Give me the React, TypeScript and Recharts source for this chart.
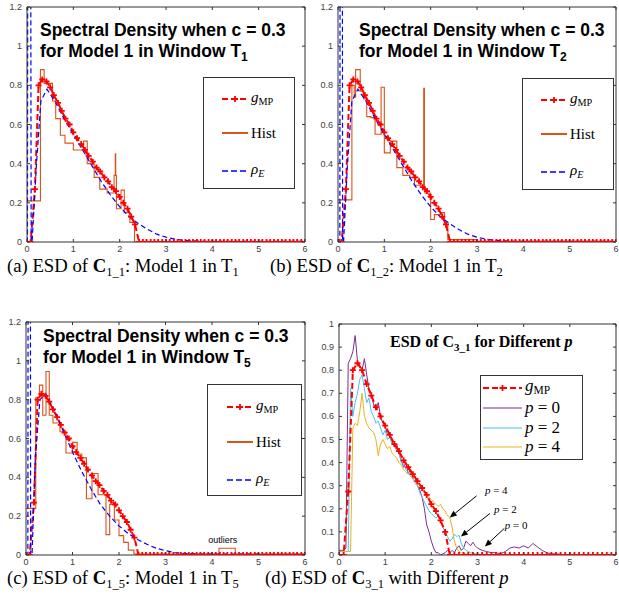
import React from 'react';
import { ComposedChart, Line, XAxis, YAxis, ReferenceLine, ReferenceDot, Legend } from 'recharts';

// ---- shared g_MP (panels a–c) ----
const MP_X = [0, 0.08, 0.17, 0.25, 0.33, 0.42, 0.5, 0.58, 0.67, 0.75, 0.83, 0.92, 1, 1.08, 1.17, 1.25, 1.33, 1.42, 1.5, 1.58, 1.67, 1.75, 1.83, 1.92, 2, 2.08, 2.17, 2.25, 2.33, 2.42, 2.5, 2.58, 2.67, 2.75, 2.83, 2.92, 3, 3.08, 3.17, 3.25, 3.33, 3.42, 3.5, 3.58, 3.67, 3.75, 3.83, 3.92, 4, 4.08, 4.17, 4.25, 4.33, 4.42, 4.5, 4.58, 4.67, 4.75, 4.83, 4.92, 5, 5.08, 5.17, 5.25, 5.33, 5.42, 5.5, 5.58, 5.67, 5.75, 5.83, 5.92, 6];
const MP_Y = [0, 0, 0.27, 0.8, 0.83, 0.82, 0.79, 0.75, 0.71, 0.67, 0.63, 0.6, 0.56, 0.53, 0.5, 0.47, 0.44, 0.41, 0.38, 0.36, 0.33, 0.31, 0.28, 0.26, 0.23, 0.2, 0.17, 0.13, 0.09, 0, 0, 0, 0, 0, 0, 0, 0, 0, 0, 0, 0, 0, 0, 0, 0, 0, 0, 0, 0, 0, 0, 0, 0, 0, 0, 0, 0, 0, 0, 0, 0, 0, 0, 0, 0, 0, 0, 0, 0, 0, 0, 0, 0];

// ---- panel (a) ----
const A_HIST_X = [0, 0.29, 0.37, 0.47, 0.55, 0.62, 0.72, 0.82, 1, 1.1, 1.22, 1.3, 1.45, 1.57, 1.73, 1.88, 1.905, 1.915, 1.93, 2.03, 2.1, 2.22, 2.32, 6];
const A_HIST_Y = [0.21, 0.88, 0.81, 0.81, 0.72, 0.63, 0.545, 0.505, 0.47, 0.47, 0.515, 0.4, 0.33, 0.27, 0.25, 0.34, 0.45, 0.34, 0.17, 0.265, 0.15, 0.1, 0, 0];
const A_RHO_X = [0, 0.01, 0.04, 0.09, 0.11, 0.2, 0.3, 0.43, 0.6, 0.8, 1, 1.2, 1.4, 1.6, 1.8, 2, 2.2, 2.4, 2.6, 2.8, 3, 3.2, 3.4, 3.7, 4, 5, 6];
const A_RHO_Y = [0, 0, 8, 0, 0, 0.38, 0.72, 0.78, 0.72, 0.63, 0.55, 0.47, 0.39, 0.31, 0.24, 0.18, 0.13, 0.095, 0.065, 0.04, 0.025, 0.014, 0.008, 0.004, 0.003, 0.003, 0.003];

// ---- panel (b) ----
const B_HIST_X = [0, 0.3, 0.35, 0.38, 0.48, 0.55, 0.62, 0.71, 0.8, 0.93, 1, 1.13, 1.27, 1.4, 1.55, 1.65, 1.85, 1.865, 1.875, 2, 2.08, 2.22, 2.3, 2.37, 3, 6];
const B_HIST_Y = [0.215, 0.8, 0.74, 0.88, 0.77, 0.73, 0.64, 0.635, 0.55, 0.79, 0.455, 0.515, 0.38, 0.34, 0.33, 0.29, 0.785, 0.28, 0.25, 0.115, 0.14, 0.15, 0.09, 0.012, 0.003, 0.003];
const B_RHO_X = [0, 0.04, 0.065, 0.1, 0.12, 0.2, 0.3, 0.43, 0.6, 0.8, 1, 1.2, 1.4, 1.6, 1.8, 2, 2.2, 2.4, 2.6, 2.8, 3, 3.2, 3.4, 3.7, 4, 5, 6];
const B_RHO_Y = [0, 0, 8, 0, 0, 0.38, 0.72, 0.78, 0.72, 0.63, 0.55, 0.47, 0.39, 0.31, 0.24, 0.18, 0.13, 0.095, 0.065, 0.04, 0.025, 0.014, 0.008, 0.004, 0.003, 0.003, 0.003];

// ---- panel (c) ----
const C_HIST_X = [0, 0.21, 0.29, 0.36, 0.43, 0.5, 0.58, 0.73, 0.86, 1, 1.1, 1.2, 1.3, 1.42, 1.55, 1.72, 1.8, 1.9, 2, 2.1, 2.2, 2.32, 4.15, 4.5, 6];
const C_HIST_Y = [0.24, 0.81, 0.875, 0.72, 0.945, 0.72, 0.68, 0.635, 0.525, 0.58, 0.52, 0.5, 0.29, 0.42, 0.31, 0.105, 0.26, 0.18, 0.1, 0.065, 0.025, 0.005, 0.035, 0.005, 0.005];
const C_RHO_X = [0, 0.04, 0.07, 0.1, 0.13, 0.2, 0.3, 0.42, 0.6, 0.8, 1, 1.2, 1.4, 1.6, 1.8, 2, 2.2, 2.4, 2.6, 2.8, 3, 3.2, 3.4, 3.7, 4, 5, 6];
const C_RHO_Y = [0, 0, 8, 0, 0, 0.5, 0.8, 0.83, 0.75, 0.64, 0.53, 0.43, 0.34, 0.26, 0.2, 0.15, 0.11, 0.08, 0.055, 0.035, 0.022, 0.013, 0.008, 0.005, 0.004, 0.004, 0.003];

// ---- panel (d) ----
const D_MP_X = [0, 0.1, 0.2, 0.3, 0.4, 0.5, 0.6, 0.7, 0.8, 0.9, 1, 1.1, 1.2, 1.3, 1.4, 1.5, 1.6, 1.7, 1.8, 1.9, 2, 2.1, 2.2, 2.3, 2.4, 2.5, 2.6, 2.7, 2.8, 2.9, 3, 3.1, 3.2, 3.3, 3.4, 3.5, 3.6, 3.7, 3.8, 3.9, 4, 4.1, 4.2, 4.3, 4.4, 4.5, 4.6, 4.7, 4.8, 4.9, 5, 5.1, 5.2, 5.3, 5.4, 5.5, 5.6, 5.7, 5.8, 5.9, 6];
const D_MP_Y = [0, 0, 0.275, 0.8, 0.83, 0.8, 0.74, 0.69, 0.64, 0.6, 0.56, 0.52, 0.48, 0.45, 0.41, 0.38, 0.35, 0.32, 0.29, 0.26, 0.22, 0.19, 0.15, 0.1, 0, 0, 0, 0, 0, 0, 0, 0, 0, 0, 0, 0, 0, 0, 0, 0, 0, 0, 0, 0, 0, 0, 0, 0, 0, 0, 0, 0, 0, 0, 0, 0, 0, 0, 0, 0, 0];
const D_X = [0, 0.05, 0.1, 0.15, 0.2, 0.25, 0.3, 0.35, 0.4, 0.45, 0.5, 0.55, 0.6, 0.65, 0.7, 0.75, 0.8, 0.85, 0.9, 0.95, 1, 1.05, 1.1, 1.15, 1.2, 1.25, 1.3, 1.35, 1.4, 1.45, 1.5, 1.55, 1.6, 1.65, 1.7, 1.75, 1.8, 1.85, 1.9, 1.95, 2, 2.05, 2.1, 2.15, 2.2, 2.25, 2.3, 2.35, 2.4, 2.45, 2.5, 2.55, 2.6, 2.65, 2.7, 2.75, 2.8, 2.85, 2.9, 2.95, 3, 3.1, 3.2, 3.3, 3.4, 3.5, 3.6, 3.7, 3.8, 3.9, 4, 4.1, 4.2, 4.3, 4.4, 4.5, 4.6, 4.7, 4.8, 4.9, 5, 5.1, 5.2, 5.3, 5.4, 5.5, 5.6, 5.7, 5.8, 5.9, 6];
const P0 = [0.02, 0.02, 0.02, 0.03, 0.83, 0.85, 0.88, 0.95, 0.84, 0.82,
  0.8, 0.85, 0.78, 0.72, 0.7, 0.65, 0.63, 0.66, 0.6, 0.57,
  0.56, 0.52, 0.53, 0.49, 0.47, 0.48, 0.44, 0.41, 0.38, 0.4,
  0.35, 0.37, 0.33, 0.34, 0.3, 0.28, 0.25, 0.2, 0.13, 0.1,
  0.06, 0.03, 0.01, 0.01, 0, 0.005, 0.01, 0.02, 0.01, 0.02,
  0.01, 0.03, 0.04, 0.02, 0.03, 0.06, 0.05, 0.04, 0.055, 0.04,
  0.03,
  0.02, 0.015, 0.01, 0.01, 0.005, 0.015, 0.03, 0.035, 0.03, 0.04,
  0.03, 0.05, 0.035, 0.02, 0.01, 0.005, 0.005, 0.003, 0, 0,
  0, 0, 0, 0, 0, 0, 0, 0, 0, 0];
const P2 = [0.015, 0.015, 0.015, 0.015, 0.015, 0.72, 0.6, 0.66, 0.7, 0.76,
  0.78, 0.72, 0.66, 0.68, 0.62, 0.6, 0.57, 0.58, 0.55, 0.52,
  0.54, 0.5, 0.51, 0.48, 0.47, 0.45, 0.44, 0.4, 0.39, 0.37,
  0.36, 0.34, 0.33, 0.31, 0.3, 0.27, 0.25, 0.23, 0.21, 0.19,
  0.18, 0.17, 0.16, 0.17, 0.15, 0.12, 0.1, 0.08, 0.06, 0.07,
  0.09, 0.08, 0.085, 0.05, 0.03, 0.02, 0.015, 0.01, 0.008, 0.005,
  0.003,
  0.002, 0, 0, 0, 0, 0, 0, 0, 0, 0,
  0, 0, 0, 0, 0, 0, 0, 0, 0, 0,
  0, 0, 0, 0, 0, 0, 0, 0, 0, 0];
const P4 = [0.015, 0.015, 0.015, 0.015, 0.015, 0.015, 0.55, 0.57, 0.56, 0.62,
  0.7, 0.6, 0.57, 0.55, 0.54, 0.53, 0.5, 0.43, 0.48, 0.5,
  0.48, 0.46, 0.47, 0.44, 0.43, 0.42, 0.4, 0.39, 0.37, 0.36,
  0.35, 0.36, 0.33, 0.32, 0.3, 0.29, 0.3, 0.27, 0.26, 0.25,
  0.24, 0.23, 0.22, 0.21, 0.22, 0.2, 0.19, 0.17, 0.16, 0.12,
  0.06, 0.03, 0.015, 0.01, 0.008, 0.005, 0.003, 0.002, 0, 0,
  0,
  0, 0, 0, 0, 0, 0, 0, 0, 0, 0,
  0, 0, 0, 0, 0, 0, 0, 0, 0, 0,
  0, 0, 0, 0, 0, 0, 0, 0, 0, 0];
const D_NOTES = [
  { p: '4', tx: 3.16, ty: 0.263, from: [2.98, 0.256], to: [2.4, 0.162] },
  { p: '2', tx: 3.36, ty: 0.181, from: [3.27, 0.18], to: [2.64, 0.08] },
  { p: '0', tx: 3.59, ty: 0.112, from: [3.58, 0.115], to: [3.16, 0.037] },
];

const X_TICKS = [0, 1, 2, 3, 4, 5, 6];
const Y_TICKS_ABC = [0, 0.2, 0.4, 0.6, 0.8, 1, 1.2];
const Y_TICKS_D = [0, 0.1, 0.2, 0.3, 0.4, 0.5, 0.6, 0.7, 0.8, 0.9, 1];

const AXIS = '#333333';
const TICK_TXT = '#404040';
const RED = '#FF0000';
const BLUE = '#0000FF';
const HIST = '#D9541A';
const PURPLE = '#7E2F8E';
const CYAN = '#4DBEEE';
const YELLOW = '#EDB120';
const SANS = '"Liberation Sans", Arial, Helvetica, sans-serif';
const SERIF = '"Liberation Serif", "Times New Roman", serif';

const pts = (xs: number[], ys: number[]) => xs.map((x, i) => ({ x, y: ys[i] }));
const D_ROWS = D_X.map((x, i) => ({ x, p0: P0[i], p2: P2[i], p4: P4[i] }));

const plusDot = (color: string, s = 3) => (p: any) => {
  if (p.cx == null || p.cy == null) return <g key={`m${p.index}`} />;
  return (
    <path key={`m${p.index}`} d={`M${p.cx - s},${p.cy}H${p.cx + s}M${p.cx},${p.cy - s}V${p.cy + s}`}
      stroke={color} strokeWidth={1.8} fill="none" />
  );
};

const xTick = (plotH: number) => (p: any) => (
  <g>
    <line x1={p.x} y1={p.y} x2={p.x} y2={p.y - 3} stroke={AXIS} />
    <line x1={p.x} y1={p.y - plotH} x2={p.x} y2={p.y - plotH + 3} stroke={AXIS} />
    <text x={p.x} y={p.y + 10} textAnchor="middle" fontSize={9} fontFamily={SANS} fill={TICK_TXT}>{p.payload.value}</text>
  </g>
);

const yTick = (plotW: number) => (p: any) => (
  <g>
    <line x1={p.x} y1={p.y} x2={p.x + 3} y2={p.y} stroke={AXIS} />
    <line x1={p.x + plotW} y1={p.y} x2={p.x + plotW - 3} y2={p.y} stroke={AXIS} />
    <text x={p.x - 5} y={p.y + 3} textAnchor="end" fontSize={9} fontFamily={SANS} fill={TICK_TXT}>{p.payload.value}</text>
  </g>
);

const Arrow = (p: any) => {
  const { x1, y1, x2, y2 } = p;
  const len = Math.hypot(x2 - x1, y2 - y1) || 1;
  const ux = (x2 - x1) / len, uy = (y2 - y1) / len;
  const bx = x2 - ux * 7, by = y2 - uy * 7;
  const head = `${x2},${y2} ${bx - uy * 3},${by + ux * 3} ${bx + uy * 3},${by - ux * 3}`;
  return (
    <g>
      <line x1={x1} y1={y1} x2={bx} y2={by} stroke="#000" strokeWidth={1} />
      <polygon points={head} fill="#000" />
    </g>
  );
};

type Row = 'mp' | 'hist' | 'rho' | 'p0' | 'p2' | 'p4';

const LegendBox = ({ w, h, rows, ys, x0, x1, fs }: { w: number; h: number; rows: Row[]; ys: number[]; x0: number; x1: number; fs: number }) => (
  <svg width={w} height={h} style={{ display: 'block' }}>
    <rect x={0.5} y={0.5} width={w - 1} height={h - 1} fill="#fff" stroke={AXIS} />
    {rows.map((r, i) => {
      const y = ys[i];
      const tx = x1 + 3;
      const mid = (x0 + x1) / 2;
      let sample: React.ReactNode = null;
      let label: React.ReactNode = null;
      if (r === 'mp') {
        sample = (
          <g>
            <line x1={x0} y1={y} x2={x1} y2={y} stroke={RED} strokeWidth={2} strokeDasharray="6 3" />
            <path d={`M${mid - 3},${y}H${mid + 3}M${mid},${y - 3}V${y + 3}`} stroke={RED} strokeWidth={1.8} />
          </g>
        );
        label = (
          <text x={tx} y={y + 3} fontFamily={SERIF} fontSize={fs}>
            <tspan fontStyle="italic">g</tspan>
            <tspan fontSize={fs * 0.68} dy={3}>MP</tspan>
          </text>
        );
      } else if (r === 'hist') {
        sample = <line x1={x0} y1={y} x2={x1} y2={y} stroke={HIST} strokeWidth={2} />;
        label = <text x={tx} y={y + 5} fontFamily={SERIF} fontSize={fs}>Hist</text>;
      } else if (r === 'rho') {
        sample = <line x1={x0} y1={y} x2={x1} y2={y} stroke={BLUE} strokeWidth={1.5} strokeDasharray="6 3" />;
        label = (
          <text x={tx} y={y + 3} fontFamily={SERIF} fontSize={fs}>
            <tspan fontStyle="italic">ρ</tspan>
            <tspan fontStyle="italic" fontSize={fs * 0.68} dy={3}>E</tspan>
          </text>
        );
      } else {
        const color = r === 'p0' ? PURPLE : r === 'p2' ? CYAN : YELLOW;
        sample = <line x1={x0} y1={y} x2={x1} y2={y} stroke={color} strokeWidth={1.2} />;
        label = (
          <text x={tx} y={y + 5} fontFamily={SERIF} fontSize={fs}>
            <tspan fontStyle="italic">p</tspan> = {r.slice(1)}
          </text>
        );
      }
      return <g key={r}>{sample}{label}</g>;
    })}
  </svg>
);

type PanelProps = {
  left: number; top: number; width: number; height: number;
  plot: { x: number; y: number; w: number; h: number };
  yMax: number; yTicks: number[];
  legend: React.ReactNode; legendPos: { left: number; top: number; width: number; height: number };
  children: React.ReactNode;
};

// axes are 1px thick so they render; the plot rectangle sits just inside them
const Panel = ({ left, top, width, height, plot, yMax, yTicks, legend, legendPos, children }: PanelProps) => {
  const margin = {
    top: plot.y - 1,
    left: plot.x - 1,
    right: width - plot.x - plot.w - 1,
    bottom: height - plot.y - plot.h - 1,
  };
  return (
    <div style={{ position: 'absolute', left, top }}>
      <ComposedChart width={width} height={height} margin={margin}>
        <XAxis dataKey="x" type="number" domain={[0, 6]} ticks={X_TICKS} interval={0} allowDataOverflow
          height={1} tickSize={0} tickMargin={0} tickLine={false} axisLine={{ stroke: AXIS }} tick={xTick(plot.h)} />
        <XAxis xAxisId="top" orientation="top" dataKey="x" type="number" domain={[0, 6]} ticks={X_TICKS} allowDataOverflow
          height={1} tickLine={false} tick={false} axisLine={{ stroke: AXIS }} />
        <YAxis type="number" domain={[0, yMax]} ticks={yTicks} interval={0} allowDataOverflow
          width={1} tickSize={0} tickMargin={0} tickLine={false} axisLine={{ stroke: AXIS }} tick={yTick(plot.w)} />
        <YAxis yAxisId="right" orientation="right" type="number" domain={[0, yMax]} ticks={yTicks} allowDataOverflow
          width={1} tickLine={false} tick={false} axisLine={{ stroke: AXIS }} />
        {children}
        <Legend layout="vertical" align="center" verticalAlign="middle"
          wrapperStyle={{ ...legendPos }} content={() => legend} />
      </ComposedChart>
    </div>
  );
};

const abcSeries = (histX: number[], histY: number[], rhoX: number[], rhoY: number[]) => [
  <Line key="hist" data={pts(histX, histY)} dataKey="y" type="stepAfter" stroke={HIST} strokeWidth={1.1}
    dot={false} isAnimationActive={false} />,
  <Line key="mp" data={pts(MP_X, MP_Y)} dataKey="y" type="linear" stroke={RED} strokeWidth={2}
    strokeDasharray="6 3" dot={plusDot(RED)} isAnimationActive={false} />,
  <Line key="rho" data={pts(rhoX, rhoY)} dataKey="y" type="linear" stroke={BLUE} strokeWidth={1.2}
    strokeDasharray="5 3" dot={false} isAnimationActive={false} />,
];

const abcLegend = (
  <LegendBox w={92} h={112} rows={['mp', 'hist', 'rho']} ys={[22, 56, 94]} x0={19} x1={45} fs={15} />
);

const Title = ({ x, y, n }: { x: number; y: number; n: string }) => (
  <text fontFamily={SANS} fontWeight="bold" fontSize={17.5} fill="#000">
    <tspan x={x} y={y}>Spectral Density when c = 0.3</tspan>
    <tspan x={x} y={y + 21}>for Model 1 in Window T</tspan>
    <tspan fontSize={12} dy={4}>{n}</tspan>
  </text>
);

const Caption = ({ x, y, tag, sub, tail, tsub, ital }: { x: number; y: number; tag: string; sub: string; tail: string; tsub?: string; ital?: string }) => (
  <text x={x} y={y} fontFamily={SERIF} fontSize={18.7} fill="#000">
    {tag} ESD of <tspan fontWeight="bold">C</tspan>
    <tspan fontSize={12.5} dy={4}>{sub}</tspan>
    <tspan dy={-4}>{tail}</tspan>
    {tsub ? <tspan fontSize={12.5} dy={4}>{tsub}</tspan> : null}
    {ital ? <tspan fontStyle="italic">{ital}</tspan> : null}
  </text>
);

export default function App() {
  return (
    <div style={{ position: 'absolute', left: 0, top: 0, width: 619, height: 606, background: '#fff' }}>
      <Panel left={0} top={0} width={310} height={262} plot={{ x: 27, y: 7, w: 278, h: 235 }}
        yMax={1.2} yTicks={Y_TICKS_ABC} legend={abcLegend} legendPos={{ left: 203, top: 77, width: 92, height: 112 }}>
        {abcSeries(A_HIST_X, A_HIST_Y, A_RHO_X, A_RHO_Y)}
      </Panel>
      <Panel left={310} top={0} width={309} height={262} plot={{ x: 28, y: 7, w: 278, h: 235 }}
        yMax={1.2} yTicks={Y_TICKS_ABC} legend={abcLegend} legendPos={{ left: 212, top: 78, width: 92, height: 112 }}>
        {abcSeries(B_HIST_X, B_HIST_Y, B_RHO_X, B_RHO_Y)}
      </Panel>
      <Panel left={0} top={300} width={310} height={270} plot={{ x: 26, y: 22, w: 279, h: 233 }}
        yMax={1.2} yTicks={Y_TICKS_ABC}
        legend={<LegendBox w={95} h={112} rows={['mp', 'hist', 'rho']} ys={[23, 58, 96]} x0={20} x1={46} fs={15} />}
        legendPos={{ left: 207, top: 84, width: 95, height: 112 }}>
        {abcSeries(C_HIST_X, C_HIST_Y, C_RHO_X, C_RHO_Y)}
        <ReferenceDot x={4.23} y={0.062} r={1} shape={(p: any) => (
          <text x={p.cx} y={p.cy} textAnchor="middle" fontFamily={SANS} fontSize={9} fill="#000">outliers</text>
        )} />
      </Panel>
      <Panel left={310} top={300} width={309} height={270} plot={{ x: 29, y: 24, w: 277, h: 231 }}
        yMax={1} yTicks={Y_TICKS_D}
        legend={<LegendBox w={103} h={85} rows={['mp', 'p0', 'p2', 'p4']} ys={[13, 33, 53, 72]} x0={3} x1={42} fs={17} />}
        legendPos={{ left: 170, top: 75, width: 103, height: 85 }}>
        <Line data={D_ROWS} dataKey="p0" type="linear" stroke={PURPLE} strokeWidth={1} dot={false} isAnimationActive={false} />
        <Line data={D_ROWS} dataKey="p2" type="linear" stroke={CYAN} strokeWidth={1} dot={false} isAnimationActive={false} />
        <Line data={D_ROWS} dataKey="p4" type="linear" stroke={YELLOW} strokeWidth={1} dot={false} isAnimationActive={false} />
        <Line data={pts(D_MP_X, D_MP_Y)} dataKey="y" type="linear" stroke={RED} strokeWidth={2}
          strokeDasharray="6 3" dot={plusDot(RED)} isAnimationActive={false} />
        {D_NOTES.map((n) => (
          <ReferenceLine key={`a${n.p}`} segment={[{ x: n.from[0], y: n.from[1] }, { x: n.to[0], y: n.to[1] }]} shape={Arrow} />
        ))}
        {D_NOTES.map((n) => (
          <ReferenceDot key={`t${n.p}`} x={n.tx} y={n.ty} r={1} shape={(p: any) => (
            <text x={p.cx} y={p.cy} fontFamily={SERIF} fontSize={11} fill="#000">
              <tspan fontStyle="italic">p</tspan> = {n.p}
            </text>
          )} />
        ))}
      </Panel>
      <svg width={619} height={606} style={{ position: 'absolute', left: 0, top: 0, pointerEvents: 'none' }}>
        <Title x={40} y={36} n="1" />
        <Title x={359} y={36} n="2" />
        <Title x={43} y={342} n="5" />
        <text x={390} y={347} fontFamily={SERIF} fontWeight="bold" fontSize={16} fill="#000">
          ESD of C<tspan fontSize={11} dy={4}>3_1</tspan>
          <tspan dy={-4}> for Different </tspan>
          <tspan fontStyle="italic">p</tspan>
        </text>
        <Caption x={7} y={272} tag="(a)" sub="1_1" tail=": Model 1 in T" tsub="1" />
        <Caption x={270} y={272} tag="(b)" sub="1_2" tail=": Model 1 in T" tsub="2" />
        <Caption x={7} y={584} tag="(c)" sub="1_5" tail=": Model 1 in T" tsub="5" />
        <Caption x={265} y={584} tag="(d)" sub="3_1" tail=" with Different " ital="p" />
      </svg>
    </div>
  );
}
